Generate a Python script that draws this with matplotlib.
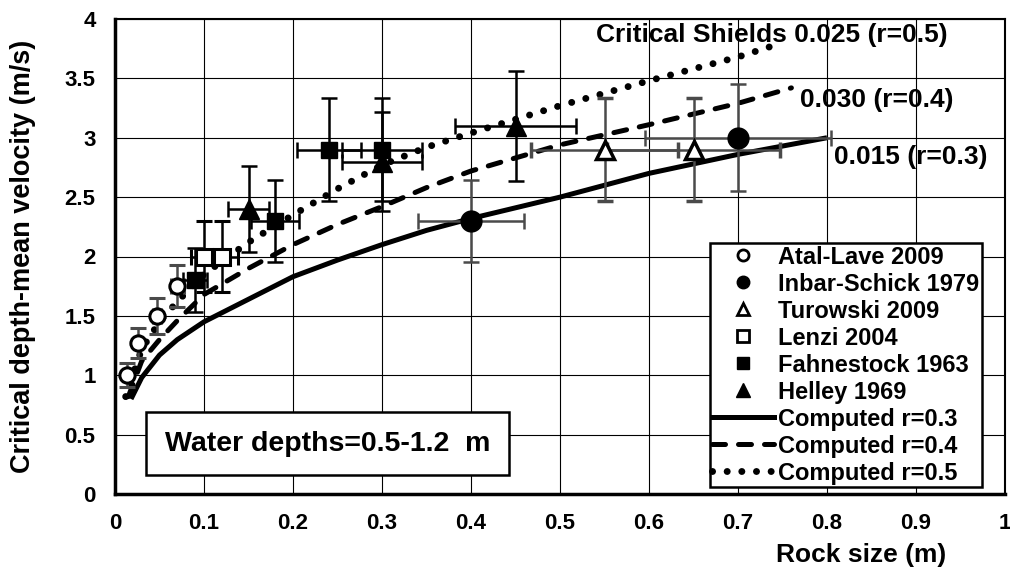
import matplotlib
matplotlib.use('Agg')
import matplotlib.pyplot as plt
from matplotlib.lines import Line2D

plt.rcParams['font.family'] = ['Liberation Sans', 'DejaVu Sans']
plt.rcParams['font.weight'] = 'bold'

# computed critical velocity curves
d_r03 = [0.018, 0.03, 0.05, 0.07, 0.1, 0.15, 0.2, 0.25, 0.3, 0.35, 0.4, 0.5, 0.6, 0.7, 0.8]
v_r03 = [0.8, 0.98, 1.17, 1.3, 1.45, 1.64, 1.83, 1.97, 2.1, 2.22, 2.32, 2.5, 2.7, 2.86, 3.0]
d_r04 = [0.015, 0.03, 0.05, 0.07, 0.1, 0.15, 0.2, 0.25, 0.3, 0.35, 0.4, 0.5, 0.6, 0.7, 0.76]
v_r04 = [0.82, 1.12, 1.3, 1.46, 1.68, 1.9, 2.1, 2.27, 2.42, 2.58, 2.72, 2.94, 3.11, 3.29, 3.42]
d_r05 = [0.012, 0.03, 0.05, 0.07, 0.1, 0.15, 0.2, 0.25, 0.3, 0.35, 0.4, 0.5, 0.6, 0.7, 0.75]
v_r05 = [0.82, 1.22, 1.45, 1.62, 1.85, 2.12, 2.35, 2.57, 2.77, 2.92, 3.04, 3.27, 3.48, 3.68, 3.8]

# measured data (size, velocity, errors)
atal_x = [0.013, 0.026, 0.047, 0.07]
atal_y = [1.0, 1.27, 1.5, 1.75]
atal_xerr = [0.0013, 0.0026, 0.0047, 0.007]
atal_yerr = [0.1, 0.127, 0.15, 0.175]

inbar_x = [0.4, 0.7]
inbar_y = [2.3, 3.0]
inbar_xerr = [0.06, 0.105]
inbar_yerr = [0.345, 0.45]

turowski_x = [0.55, 0.65]
turowski_y = [2.9, 2.9]
turowski_xerr = [0.0825, 0.0975]
turowski_yerr = [0.435, 0.435]

lenzi_x = [0.1, 0.12]
lenzi_y = [2.0, 2.0]
lenzi_xerr = [0.015, 0.018]
lenzi_yerr = [0.3, 0.3]

fahn_x = [0.09, 0.18, 0.24, 0.3]
fahn_y = [1.8, 2.3, 2.9, 2.9]
fahn_xerr = [0.0135, 0.027, 0.036, 0.045]
fahn_yerr = [0.27, 0.345, 0.435, 0.435]

helley_x = [0.15, 0.3, 0.45]
helley_y = [2.4, 2.8, 3.1]
helley_xerr = [0.0225, 0.045, 0.0675]
helley_yerr = [0.36, 0.42, 0.465]

xticks = [0, 0.1, 0.2, 0.3, 0.4, 0.5, 0.6, 0.7, 0.8, 0.9, 1]
xticklabels = ['0', '0.1', '0.2', '0.3', '0.4', '0.5', '0.6', '0.7', '0.8', '0.9', '1']
yticks = [0, 0.5, 1, 1.5, 2, 2.5, 3, 3.5, 4]
yticklabels = ['0', '0.5', '1', '1.5', '2', '2.5', '3', '3.5', '4']

fig = plt.figure(figsize=(10.1, 5.71), dpi=100)
ax = fig.add_axes([115 / 1010, 1 - 494 / 571, 890 / 1010, 475 / 571])

ax.set_xlim(0, 1)
ax.set_ylim(0, 4)
ax.set_xticks(xticks)
ax.set_xticklabels(xticklabels)
ax.set_yticks(yticks)
ax.set_yticklabels(yticklabels)
ax.tick_params(length=0, labelsize=16, pad=14)
ax.grid(True, color='black', lw=0.8)
ax.set_axisbelow(True)
for s in ['left', 'bottom']:
    ax.spines[s].set_linewidth(2.5)
for s in ['top', 'right']:
    ax.spines[s].set_linewidth(1.5)

# curves
dot_style = (0, (0.01, 2.1))
dash_style = (0, (2.6, 2.6))
ax.plot(d_r03, v_r03, color='black', lw=3.6, solid_capstyle='butt', zorder=2)
ax.plot(d_r04, v_r04, color='black', lw=3.6, ls=dash_style, dash_capstyle='round', zorder=2)
ax.plot(d_r05, v_r05, color='black', lw=5, ls=dot_style, dash_capstyle='round', zorder=2)

gray = '#4a4a4a'
ebkw = dict(ls='none', capsize=6, elinewidth=1.8, capthick=1.8, zorder=3)
ax.errorbar(atal_x, atal_y, xerr=atal_xerr, yerr=atal_yerr, marker='o', ms=11,
            mfc='white', mec='black', mew=2.2, ecolor=gray, **ebkw)
ax.errorbar(inbar_x, inbar_y, xerr=inbar_xerr, yerr=inbar_yerr, marker='o', ms=15,
            mfc='black', mec='black', ecolor=gray, **ebkw)
ax.errorbar(turowski_x, turowski_y, xerr=turowski_xerr, yerr=turowski_yerr, marker='^', ms=13,
            mfc='white', mec='black', mew=2.5, ecolor=gray, **ebkw)
ax.errorbar(lenzi_x, lenzi_y, xerr=lenzi_xerr, yerr=lenzi_yerr, marker='s', ms=12,
            mfc='white', mec='black', mew=2.2, ecolor='black', **ebkw)
ax.errorbar(fahn_x, fahn_y, xerr=fahn_xerr, yerr=fahn_yerr, marker='s', ms=12,
            mfc='black', mec='black', ecolor='black', **ebkw)
ax.errorbar(helley_x, helley_y, xerr=helley_xerr, yerr=helley_yerr, marker='^', ms=14,
            mfc='black', mec='black', ecolor='black', **ebkw)

# curve annotations
ax.text(0.935, 3.865, 'Critical Shields 0.025 (r=0.5)', fontsize=19, ha='right', va='center')
ax.text(0.77, 3.32, '0.030 (r=0.4)', fontsize=19, ha='left', va='center')
ax.text(0.808, 2.84, '0.015 (r=0.3)', fontsize=19, ha='left', va='center')

ax.text(0.056, 0.425, 'Water depths=0.5-1.2  m', fontsize=20.5, ha='left', va='center',
        bbox=dict(boxstyle='square,pad=0.65', fc='white', ec='black', lw=1.8), zorder=5)

handles = [
    Line2D([], [], ls='none', marker='o', ms=8, mfc='white', mec='black', mew=2),
    Line2D([], [], ls='none', marker='o', ms=9, mfc='black', mec='black'),
    Line2D([], [], ls='none', marker='^', ms=9, mfc='white', mec='black', mew=2),
    Line2D([], [], ls='none', marker='s', ms=8, mfc='white', mec='black', mew=2),
    Line2D([], [], ls='none', marker='s', ms=9, mfc='black', mec='black'),
    Line2D([], [], ls='none', marker='^', ms=10, mfc='black', mec='black'),
    Line2D([], [], color='black', lw=3.6),
    Line2D([], [], color='black', lw=3.6, ls=dash_style, dash_capstyle='round'),
    Line2D([], [], color='black', lw=5, ls=dot_style, dash_capstyle='round'),
]
labels = ['Atal-Lave 2009', 'Inbar-Schick 1979', 'Turowski 2009', 'Lenzi 2004',
          'Fahnestock 1963', 'Helley 1969', 'Computed r=0.3', 'Computed r=0.4',
          'Computed r=0.5']
leg = ax.legend(handles, labels, loc='lower right', bbox_to_anchor=(0.974, 0.0147),
                fontsize=17, frameon=True, fancybox=False, framealpha=1,
                edgecolor='black', borderpad=0.1, labelspacing=0.17,
                handlelength=2.6, handletextpad=0.2, borderaxespad=0)
leg.get_frame().set_linewidth(1.8)
leg.set_zorder(6)

ax.set_xlabel('Rock size (m)', fontsize=19, fontweight='bold')
ax.xaxis.set_label_coords(0.838, -0.128)
ax.xaxis.label.set_va('center')
ax.set_ylabel('Critical depth-mean velocity (m/s)', fontsize=19.5, fontweight='bold')
ax.yaxis.set_label_coords(-0.103, 0.5)
ax.yaxis.label.set_va('center')

fig.savefig('out.png', dpi=100)
